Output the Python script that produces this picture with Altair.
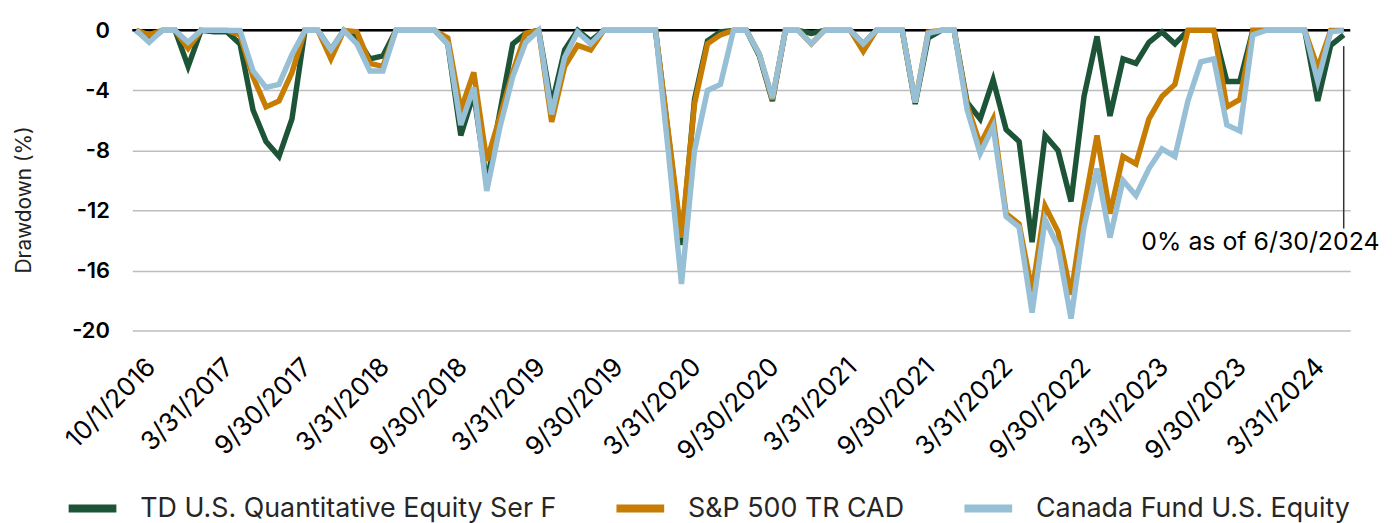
import json
import altair as alt
import pandas as pd

TICK_LABELS = ["10/1/2016", "3/31/2017", "9/30/2017", "3/31/2018", "9/30/2018",
               "3/31/2019", "9/30/2019", "3/31/2020", "9/30/2020", "3/31/2021",
               "9/30/2021", "3/31/2022", "9/30/2022", "3/31/2023", "9/30/2023",
               "3/31/2024"]

SERIES = ["TD U.S. Quantitative Equity Ser F", "S&P 500 TR CAD", "Canada Fund U.S. Equity"]
COLORS = ["#1D5437", "#C77C02", "#97BFD5"]

TD = [0, -0.7, 0, 0, -2.4, 0, -0.1, -0.1, -0.9, -5.3,
      -7.4, -8.4, -5.9, 0, 0, -1.3, 0, -0.5, -1.9, -1.7,
      0, 0, 0, 0, -0.9, -7.0, -4.2, -10.2, -5.5, -0.9,
      -0.2, 0, -5.0, -1.3, 0, -0.7, 0, 0, 0, 0,
      0, -7.1, -14.3, -4.6, -0.7, -0.1, 0, 0, -1.7, -4.7,
      0, 0, -0.2, 0, 0, 0, -0.9, 0, 0, 0,
      -4.9, -0.5, 0, 0, -4.8, -5.9, -3.3, -6.6, -7.4, -14.1,
      -7.0, -8.0, -11.4, -4.4, -0.4, -5.7, -1.9, -2.2, -0.8, -0.1,
      -0.9, 0, 0, 0, -3.4, -3.4, 0, 0, 0, 0,
      0, -4.7, -1.0, -0.3]

SP = [0, -0.3, 0, 0, -1.2, 0, 0, 0, -0.3, -3.1,
      -5.1, -4.7, -2.8, 0, 0, -1.9, 0, -0.1, -2.2, -2.4,
      0, 0, 0, 0, -0.5, -5.3, -2.8, -8.7, -5.8, -2.8,
      -0.2, 0, -6.1, -2.4, -1.0, -1.3, 0, 0, 0, 0,
      0, -6.9, -13.8, -4.9, -0.9, -0.3, 0, 0, -1.6, -4.6,
      0, 0, -0.9, 0, 0, 0, -1.4, 0, 0, 0,
      -4.8, -0.1, 0, 0, -5.0, -7.6, -5.9, -12.2, -12.9, -17.4,
      -11.7, -13.4, -17.6, -11.8, -7.0, -12.2, -8.4, -8.9, -5.9, -4.4,
      -3.6, 0, 0, 0, -5.1, -4.6, 0, 0, 0, 0,
      0, -2.5, 0, 0]

CF = [0, -0.8, 0, 0, -0.8, 0, 0, 0, 0, -2.7,
      -3.8, -3.6, -1.6, 0, 0, -1.3, 0, -0.9, -2.7, -2.7,
      0, 0, 0, 0, -0.9, -6.3, -3.8, -10.7, -6.5, -3.1,
      -0.8, 0, -5.6, -1.8, -0.1, -0.9, 0, 0, 0, 0,
      0, -8.2, -16.9, -8.0, -4.0, -3.6, 0, 0, -1.6, -4.5,
      0, 0, -0.9, 0, 0, 0, -0.9, 0, 0, 0,
      -4.8, -0.2, 0, 0, -5.3, -8.2, -6.4, -12.4, -13.1, -18.8,
      -12.6, -14.4, -19.2, -13.1, -9.2, -13.8, -10.0, -11.0, -9.2, -7.9,
      -8.4, -4.7, -2.1, -1.9, -6.3, -6.7, -0.3, 0, 0, 0,
      0, -3.4, -0.1, 0]

Y_TICKS = [0, -4, -8, -12, -16, -20]
ANNOT_TEXT = "0% as of 6/30/2024"
ANNOT_X = [93]
ANNOT_Y = [-1.05]
ANNOT_Y2 = [-13.2]
ANNOT_TEXT_Y = [-14.1]

FONT = "Inter"

rows = []
for name, vals in zip(SERIES, [TD, SP, CF]):
    for i, v in enumerate(vals):
        rows.append({"i": i, "value": v, "series": name})
df = pd.DataFrame(rows)

label_expr = json.dumps(TICK_LABELS) + "[round(datum.value / 6)]"

x_enc = alt.X(
    "i:Q",
    scale=alt.Scale(domain=[-0.3, 93.5], nice=False, zero=False),
    axis=alt.Axis(
        values=list(range(0, 91, 6)), labelExpr=label_expr, title=None,
        grid=False, domain=False, ticks=False, labelAngle=-45,
        labelAlign="right", labelBaseline="middle", labelPadding=32,
        labelOffset=15, labelFontSize=26, labelColor="#000000",
        labelFont=FONT, labelOverlap=False, labelFlush=False,
    ),
)
y_enc = alt.Y(
    "value:Q",
    scale=alt.Scale(domain=[-20, 0], nice=False, zero=False),
    axis=alt.Axis(
        values=Y_TICKS, title="Drawdown (%)", domain=False, ticks=False,
        labelExpr="datum.value == 0 ? '0' : '-' + abs(datum.value)",
        labelFontSize=22, labelFontWeight=600, labelColor="#000000",
        labelFont=FONT, labelPadding=23, gridColor="#bdbdbd", gridWidth=1.5,
        titleFont=FONT, titleFontSize=21, titleFontWeight="normal",
        titleColor="#222222", titleX=-108, titleY=170, titleAngle=-90,
        titleAlign="center", titleBaseline="middle",
    ),
)

color_enc = alt.Color(
    "series:N",
    scale=alt.Scale(domain=SERIES, range=COLORS),
    legend=alt.Legend(
        title=None, orient="none", legendX=-68, legendY=453,
        direction="horizontal", symbolType="stroke", symbolStrokeWidth=8,
        symbolSize=2304, labelFontSize=27, labelFont=FONT, labelColor="#262626",
        labelOffset=20, columnPadding=44, labelLimit=700,
    ),
)

zero_rule = alt.Chart(pd.DataFrame({"value": [0]})).mark_rule(
    color="#000000", strokeWidth=2.5
).encode(y=alt.Y("value:Q"))

layers = [zero_rule]
for name in SERIES:
    layers.append(
        alt.Chart(df).transform_filter(alt.datum.series == name)
        .mark_line(strokeWidth=5.5, strokeJoin="miter", strokeCap="butt")
        .encode(x=x_enc, y=y_enc, color=color_enc)
    )

annot_df = pd.DataFrame({"i": ANNOT_X, "y1": ANNOT_Y, "y2": ANNOT_Y2,
                         "ty": ANNOT_TEXT_Y, "t": [ANNOT_TEXT]})
annot_rule = alt.Chart(annot_df).mark_rule(color="#333333", strokeWidth=1.5).encode(
    x="i:Q", y="y1:Q", y2="y2:Q"
)
annot_text = alt.Chart(annot_df).mark_text(
    align="right", baseline="middle", dx=36, fontSize=25, font=FONT, color="#000000"
).encode(x="i:Q", y="ty:Q", text="t:N")

chart = alt.layer(*layers, annot_rule, annot_text).properties(
    width=1225, height=302,
    autosize=alt.AutoSizeParams(type="none"),
    padding={"left": 125, "top": 21, "right": 34, "bottom": 192},
).configure_view(stroke=None)

chart.save("out.html", embed_options={"renderer": "svg", "actions": False})
